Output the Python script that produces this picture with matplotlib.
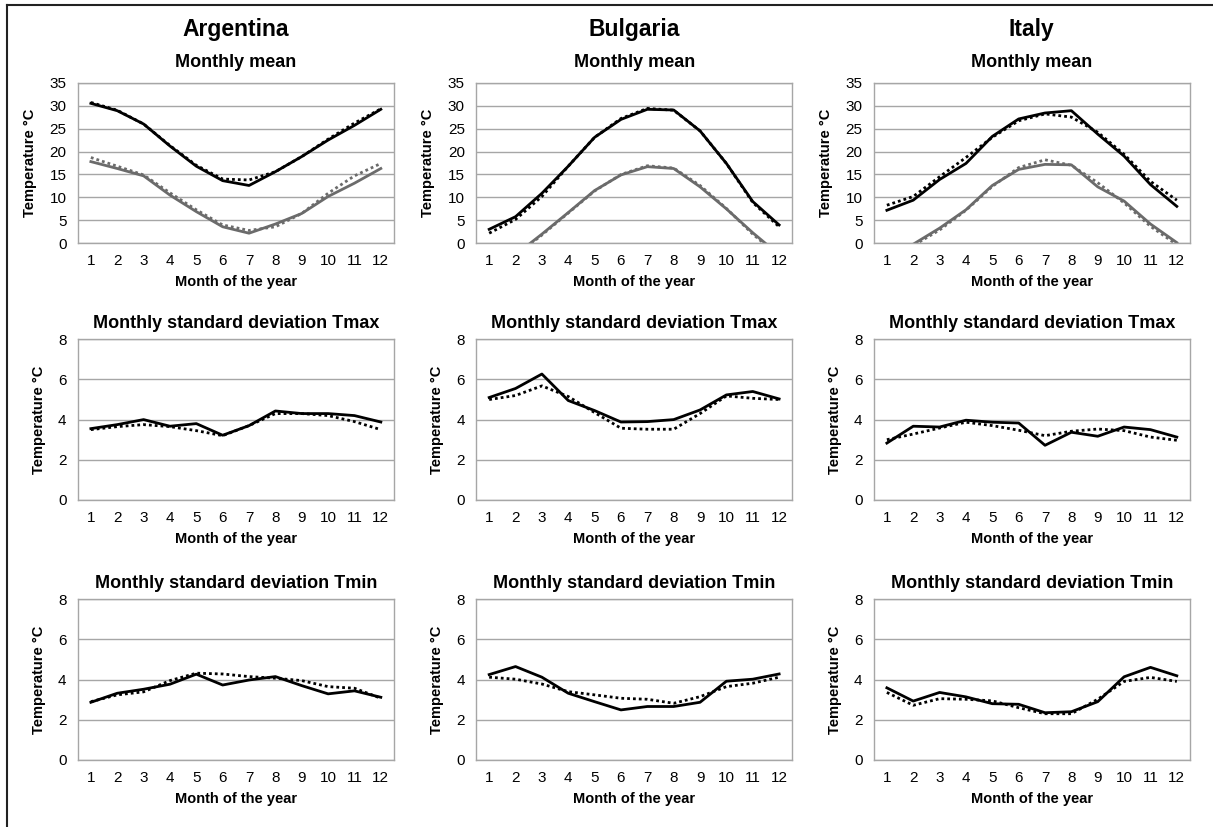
import matplotlib
matplotlib.use("Agg")
import matplotlib.pyplot as plt
from matplotlib.lines import Line2D

plt.rcParams['font.family'] = ['Liberation Sans', 'DejaVu Sans']

months = list(range(1, 13))
countries = ["Argentina", "Bulgaria", "Italy"]

# Monthly mean temperature (°C): observed (solid) and simulated (dotted)
arg_tmax_obs = [30.5, 28.9, 26.0, 21.2, 16.8, 13.65, 12.6, 15.6, 18.9, 22.5, 25.7, 29.2]
arg_tmax_sim = [30.7, 29.0, 26.0, 21.3, 17.0, 14.0, 13.8, 15.6, 18.9, 22.7, 26.2, 29.3]
arg_tmin_obs = [17.8, 16.3, 14.7, 10.5, 6.9, 3.6, 2.2, 4.2, 6.5, 10.2, 13.1, 16.3]
arg_tmin_sim = [18.7, 16.8, 14.9, 11.0, 7.3, 4.0, 2.8, 3.6, 6.5, 10.9, 14.7, 17.4]

bul_tmax_obs = [3.05, 5.8, 10.9, 16.8, 23.1, 27.0, 29.2, 29.05, 24.5, 17.4, 9.1, 4.0]
bul_tmax_sim = [2.2, 5.2, 10.2, 16.8, 23.1, 27.2, 29.4, 29.0, 24.5, 17.4, 8.9, 3.6]
bul_tmin_obs = [-3.5, -2.5, 2.0, 6.7, 11.5, 14.9, 16.7, 16.3, 12.3, 7.5, 2.3, -2.5]
bul_tmin_sim = [-3.8, -2.7, 1.8, 6.6, 11.4, 15.0, 16.9, 16.4, 12.6, 7.6, 2.0, -2.8]

ita_tmax_obs = [7.2, 9.4, 13.9, 17.4, 23.3, 27.1, 28.4, 28.9, 23.8, 19.0, 12.8, 8.05]
ita_tmax_sim = [8.3, 10.2, 14.5, 18.7, 23.1, 26.7, 28.2, 27.5, 24.2, 19.4, 13.5, 9.4]
ita_tmin_obs = [-2.0, -0.2, 3.3, 7.3, 12.6, 16.1, 17.2, 17.1, 12.3, 9.2, 4.2, 0.15]
ita_tmin_sim = [-2.3, -0.5, 2.9, 7.2, 12.4, 16.5, 18.2, 17.0, 13.2, 8.8, 3.7, -0.3]

# Monthly standard deviation of Tmax (°C)
arg_sdmax_obs = [3.55, 3.75, 4.0, 3.67, 3.8, 3.22, 3.7, 4.43, 4.3, 4.3, 4.2, 3.88]
arg_sdmax_sim = [3.5, 3.65, 3.75, 3.65, 3.45, 3.2, 3.7, 4.3, 4.3, 4.2, 3.9, 3.5]
bul_sdmax_obs = [5.1, 5.55, 6.27, 4.95, 4.45, 3.88, 3.9, 4.0, 4.48, 5.23, 5.4, 5.03]
bul_sdmax_sim = [5.0, 5.2, 5.68, 5.15, 4.35, 3.57, 3.52, 3.52, 4.3, 5.18, 5.06, 5.0]
ita_sdmax_obs = [2.83, 3.67, 3.63, 3.97, 3.87, 3.83, 2.72, 3.37, 3.17, 3.63, 3.5, 3.13]
ita_sdmax_sim = [3.0, 3.28, 3.58, 3.87, 3.7, 3.47, 3.2, 3.42, 3.53, 3.45, 3.13, 2.97]

# Monthly standard deviation of Tmin (°C)
arg_sdmin_obs = [2.87, 3.32, 3.52, 3.77, 4.27, 3.73, 3.98, 4.15, 3.7, 3.29, 3.44, 3.12]
arg_sdmin_sim = [2.9, 3.24, 3.39, 3.95, 4.32, 4.28, 4.15, 4.07, 3.95, 3.65, 3.57, 3.07]
bul_sdmin_obs = [4.25, 4.65, 4.12, 3.32, 2.9, 2.49, 2.66, 2.66, 2.87, 3.92, 4.02, 4.28]
bul_sdmin_sim = [4.12, 4.02, 3.78, 3.4, 3.24, 3.07, 3.02, 2.82, 3.15, 3.65, 3.82, 4.12]
ita_sdmin_obs = [3.59, 2.93, 3.36, 3.14, 2.8, 2.77, 2.35, 2.4, 2.9, 4.14, 4.61, 4.19]
ita_sdmin_sim = [3.36, 2.72, 3.05, 3.02, 2.94, 2.6, 2.3, 2.3, 3.02, 3.91, 4.11, 3.91]

mean_series = [
    [(arg_tmax_obs, arg_tmax_sim), (arg_tmin_obs, arg_tmin_sim)],
    [(bul_tmax_obs, bul_tmax_sim), (bul_tmin_obs, bul_tmin_sim)],
    [(ita_tmax_obs, ita_tmax_sim), (ita_tmin_obs, ita_tmin_sim)],
]
sdmax_series = [(arg_sdmax_obs, arg_sdmax_sim), (bul_sdmax_obs, bul_sdmax_sim),
                (ita_sdmax_obs, ita_sdmax_sim)]
sdmin_series = [(arg_sdmin_obs, arg_sdmin_sim), (bul_sdmin_obs, bul_sdmin_sim),
                (ita_sdmin_obs, ita_sdmin_sim)]

W, H = 1213, 827
fig = plt.figure(figsize=(W / 100, H / 100), dpi=100)

col_left = [77.7, 476.0, 873.7]
col_w = 316.3
row_top = [82.7, 339.3, 599.3]
row_h = 160.6

GRID = "#a6a6a6"
GREY = "#6b6b6b"


def make_axes(row, col):
    left = col_left[col] / W
    bottom = 1 - (row_top[row] + row_h) / H
    ax = fig.add_axes([left, bottom, col_w / W, row_h / H])
    for s in ax.spines.values():
        s.set_color(GRID)
        s.set_linewidth(1.0)
    ax.tick_params(length=0, labelsize=11, pad=8)
    ax.set_xlim(0.5, 12.5)
    ax.set_xticks(months)
    ax.set_xticklabels([str(m) for m in months])
    ax.grid(axis="y", color=GRID, linewidth=1.0)
    ax.set_axisbelow(True)
    ax.set_xlabel("Month of the year", fontsize=10.5, fontweight="bold", labelpad=5)
    ax.set_ylabel("Temperature °C", fontsize=10.5, fontweight="bold", labelpad=9)
    return ax


def draw_pair(ax, obs, sim, color):
    ax.plot(months, obs, color=color, linewidth=2.0, solid_joinstyle="round")
    ax.plot(months, sim, color=color, linewidth=2.0, linestyle=(0, (1, 1.1)))


for c in range(3):
    # Monthly mean
    ax = make_axes(0, c)
    (tx_o, tx_s), (tn_o, tn_s) = mean_series[c]
    draw_pair(ax, tn_o, tn_s, GREY)
    draw_pair(ax, tx_o, tx_s, "black")
    ax.set_ylim(0, 35)
    ax.set_yticks(range(0, 36, 5))
    ax.set_title("Monthly mean", fontsize=13, fontweight="bold", pad=11)
    ax.text(0.5, 1.0 + 53 / row_h, countries[c], transform=ax.transAxes,
            ha="center", va="center", fontsize=16.5, fontweight="bold")

    # Standard deviation of Tmax
    ax = make_axes(1, c)
    draw_pair(ax, *sdmax_series[c], "black")
    ax.set_ylim(0, 8)
    ax.set_yticks(range(0, 9, 2))
    ax.set_title("Monthly standard deviation Tmax", fontsize=13, fontweight="bold", pad=8)

    # Standard deviation of Tmin
    ax = make_axes(2, c)
    draw_pair(ax, *sdmin_series[c], "black")
    ax.set_ylim(0, 8)
    ax.set_yticks(range(0, 9, 2))
    ax.set_title("Monthly standard deviation Tmin", fontsize=13, fontweight="bold", pad=8)

# Frame along the top and left edges
fig.add_artist(Line2D([7 / W, 7 / W], [0, 1 - 5 / H], transform=fig.transFigure,
                      color="#222222", linewidth=1.5))
fig.add_artist(Line2D([7 / W, 1], [1 - 5 / H, 1 - 5 / H], transform=fig.transFigure,
                      color="#222222", linewidth=1.5))

fig.savefig("out.png", dpi=100, facecolor="white")
